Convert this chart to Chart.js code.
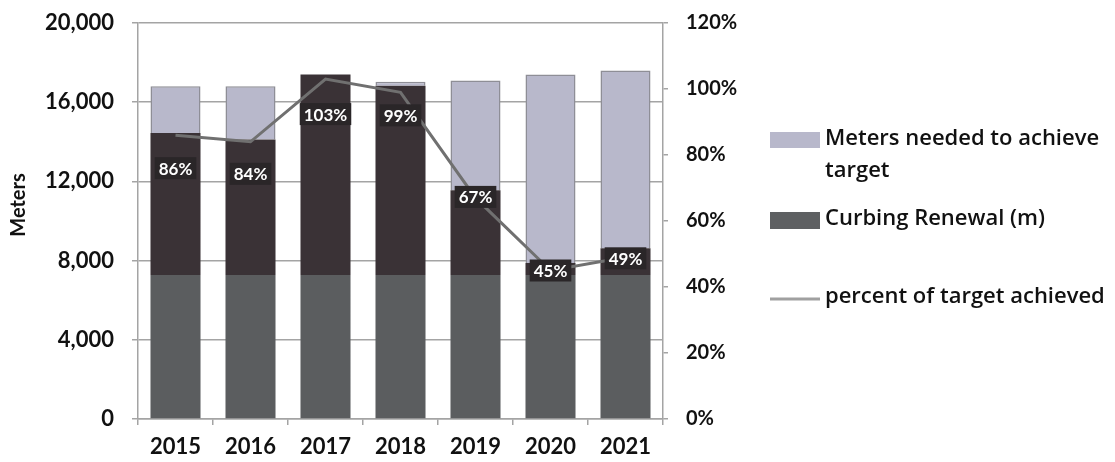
<!DOCTYPE html>
<html>
<head>
<meta charset="utf-8">
<script src="https://cdn.jsdelivr.net/npm/chart.js@4.4.1/dist/chart.umd.min.js"></script>
<style>
  html, body { margin: 0; padding: 0; background: #ffffff; }
  #wrap { width: 1115px; height: 462px; position: relative; }
</style>
</head>
<body>
<div id="wrap"><canvas id="c" width="1115" height="462"></canvas></div>
<script>
// ---- data ----
const years = ['2015', '2016', '2017', '2018', '2019', '2020', '2021'];
const curbingRenewal = [14450, 14120, 17400, 16830, 11550, 7880, 8620];
const metersNeeded = [2350, 2680, 0, 200, 5550, 9520, 8980];
const percentAchieved = [86, 84, 103, 99, 67, 45, 49];
const leftTicks = [0, 4000, 8000, 12000, 16000, 20000];
const rightTicks = [0, 20, 40, 60, 80, 100, 120];
const yTitle = 'Meters';

// ---- styles ----
const FONT = 'Lato, "Open Sans", "DejaVu Sans", sans-serif';
const LEGEND_FONT = '"Open Sans", Lato, sans-serif';
const C_LIGHT = '#b8b8cb';
const C_LIGHT_BORDER = '#8e8e96';
const C_DARK_TOP = '#3a3236';
const C_DARK_BOTTOM = '#5b5d5f';
const C_LINE = '#707070';
const C_GRID = '#a4a4a4';
const SHADE_LEVEL = 7250;                 // scan shading of the lower bar part
const LABEL_DY = [33, 32, 35, 23, -1, 0, 1]; // data label offset from line point (px)

function curbingFill(ctx) {
  const chart = ctx.chart;
  const area = chart.chartArea;
  if (!area) return C_DARK_TOP;
  const yb = chart.scales.y.getPixelForValue(SHADE_LEVEL);
  const f = Math.min(1, Math.max(0, (area.bottom - yb) / (area.bottom - area.top)));
  const g = chart.ctx.createLinearGradient(0, area.bottom, 0, area.top);
  g.addColorStop(0, C_DARK_BOTTOM);
  g.addColorStop(f, C_DARK_BOTTOM);
  g.addColorStop(f, C_DARK_TOP);
  g.addColorStop(1, C_DARK_TOP);
  return g;
}

const dataLabels = {
  id: 'dataLabels',
  afterDatasetsDraw(chart) {
    const meta = chart.getDatasetMeta(2);
    const ctx = chart.ctx;
    ctx.save();
    ctx.font = 'bold 17px ' + FONT;
    ctx.textAlign = 'center';
    ctx.textBaseline = 'middle';
    meta.data.forEach((pt, i) => {
      const txt = percentAchieved[i] + '%';
      const x = pt.x, y = pt.y + LABEL_DY[i];
      const w = ctx.measureText(txt).width + 8, h = 22;
      ctx.fillStyle = '#2a2628';
      ctx.fillRect(x - w / 2, y - h / 2, w, h);
      ctx.fillStyle = '#ffffff';
      ctx.fillText(txt, x, y + 1);
    });
    ctx.restore();
  }
};

const yTitlePlugin = {
  id: 'yTitlePlugin',
  afterDraw(chart) {
    const ctx = chart.ctx;
    ctx.save();
    ctx.translate(19, 205);
    ctx.rotate(-Math.PI / 2);
    ctx.font = 'bold 20px ' + FONT;
    ctx.fillStyle = '#111';
    ctx.textAlign = 'center';
    ctx.textBaseline = 'middle';
    ctx.fillText(yTitle, 0, 0);
    ctx.restore();
  }
};

const customLegend = {
  id: 'customLegend',
  afterDraw(chart) {
    const ctx = chart.ctx;
    ctx.save();
    ctx.font = '600 22px ' + LEGEND_FONT;
    ctx.textBaseline = 'middle';
    ctx.textAlign = 'left';
    const sx = 770, sw = 50, tx = 825;
    const ds = chart.data.datasets;
    // Meters needed
    ctx.fillStyle = C_LIGHT;
    ctx.fillRect(sx, 132, sw, 16);
    ctx.fillStyle = '#111';
    const parts = ds[1].label.split('|');
    ctx.fillText(parts[0], tx, 139);
    ctx.fillText(parts[1], tx, 171);
    // Curbing
    ctx.fillStyle = '#5e6062';
    ctx.fillRect(sx, 212, sw, 17);
    ctx.fillStyle = '#111';
    ctx.fillText(ds[0].label, tx, 219);
    // line
    ctx.strokeStyle = '#a0a0a0';
    ctx.lineWidth = 3;
    ctx.beginPath();
    ctx.moveTo(sx, 299);
    ctx.lineTo(sx + sw, 299);
    ctx.stroke();
    ctx.fillStyle = '#111';
    ctx.fillText(ds[2].label, tx, 297);
    ctx.restore();
  }
};

new Chart(document.getElementById('c'), {
  data: {
    labels: years,
    datasets: [
      {
        type: 'bar',
        label: 'Curbing Renewal (m)',
        data: curbingRenewal,
        backgroundColor: curbingFill,
        borderWidth: 0,
        stack: 's',
        yAxisID: 'y',
        order: 1,
        categoryPercentage: 1,
        barPercentage: 0.667
      },
      {
        type: 'bar',
        label: 'Meters needed to achieve|target',
        data: metersNeeded,
        backgroundColor: C_LIGHT,
        borderColor: C_LIGHT_BORDER,
        borderWidth: 1.5,
        stack: 's',
        yAxisID: 'y',
        order: 1,
        categoryPercentage: 1,
        barPercentage: 0.667
      },
      {
        type: 'line',
        label: 'percent of target achieved',
        data: percentAchieved,
        borderColor: C_LINE,
        borderWidth: 3,
        pointRadius: 0,
        tension: 0,
        fill: false,
        yAxisID: 'y1',
        order: 0
      }
    ]
  },
  options: {
    responsive: false,
    animation: false,
    devicePixelRatio: 1,
    layout: { padding: { left: 0, right: 360, top: 23, bottom: 0 } },
    plugins: {
      legend: { display: false },
      tooltip: { enabled: false }
    },
    scales: {
      x: {
        stacked: true,
        grid: { drawOnChartArea: false, drawTicks: true, tickLength: 6, color: C_GRID, lineWidth: 1.5, offset: true },
        border: { display: true, color: C_GRID, width: 1.5 },
        ticks: { color: '#111', font: { family: FONT, size: 22, weight: 'bold' }, padding: 9, maxRotation: 0 },
        afterFit(s) { s.height = 43; s.paddingLeft = 0; s.paddingRight = 0; }
      },
      y: {
        stacked: true,
        position: 'left',
        min: 0, max: 20000,
        afterBuildTicks(s) { s.ticks = leftTicks.map(v => ({ value: v })); },
        grid: { color: C_GRID, lineWidth: 1.5, tickLength: 6, drawTicks: true },
        border: { display: true, color: C_GRID, width: 1.5 },
        ticks: {
          color: '#111',
          font: { family: FONT, size: 22, weight: 'bold' },
          padding: 18,
          callback: v => v.toLocaleString('en-US')
        },
        afterFit(s) { s.width = 138; s.paddingTop = 0; s.paddingBottom = 0; }
      },
      y1: {
        position: 'right',
        min: 0, max: 120,
        afterBuildTicks(s) { s.ticks = rightTicks.map(v => ({ value: v })); },
        grid: { drawOnChartArea: false, tickLength: 5, color: C_GRID, lineWidth: 1.5 },
        border: { display: true, color: C_GRID, width: 1.5 },
        ticks: {
          color: '#111',
          font: { family: FONT, size: 20, weight: 'bold' },
          padding: 18,
          callback: v => v + '%'
        },
        afterFit(s) { s.width = 92; s.paddingTop = 0; s.paddingBottom = 0; }
      }
    }
  },
  plugins: [dataLabels, yTitlePlugin, customLegend]
});
</script>
</body>
</html>
